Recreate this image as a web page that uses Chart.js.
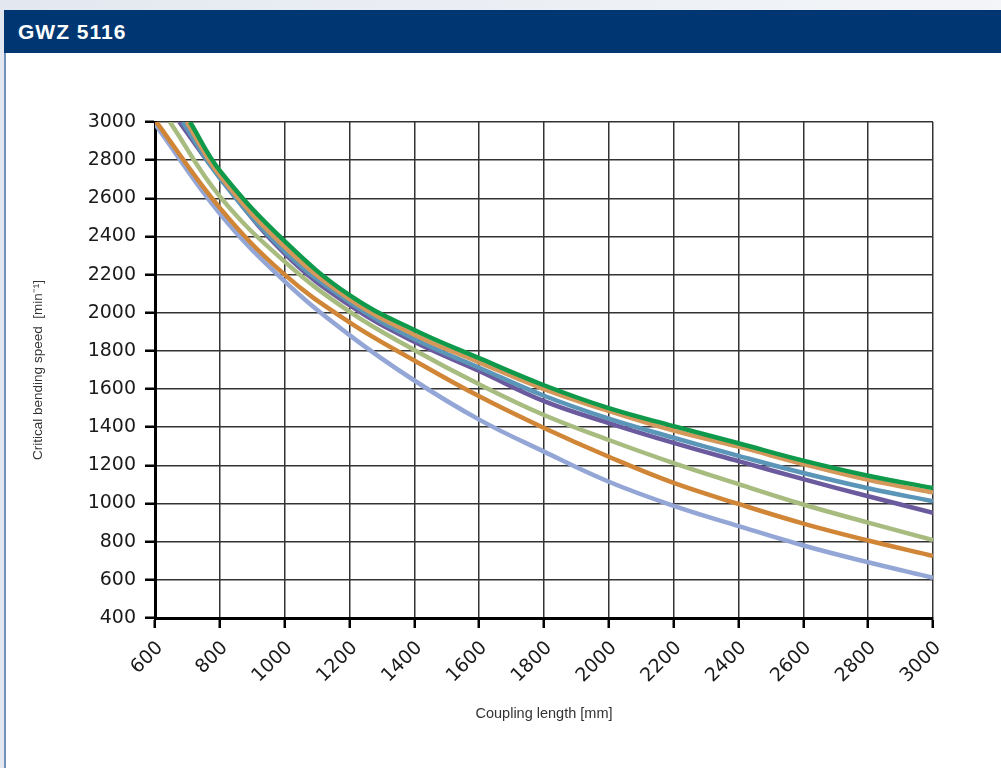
<!DOCTYPE html>
<html>
<head>
<meta charset="utf-8">
<script src="https://cdn.jsdelivr.net/npm/chart.js@4/dist/chart.umd.min.js"></script>
<style>
  body { margin: 0; width: 1001px; height: 768px; overflow: hidden; background: #fff; position: relative; font-family: "Liberation Sans", Arial, sans-serif; }
  #topStrip { position: absolute; left: 0; top: 0; width: 1001px; height: 10px; background: linear-gradient(to right, #e3e8f0, #f3f5f8); }
  #leftStrip { position: absolute; left: 0; top: 10px; width: 4px; height: 758px; background: #e3e8f0; border-right: 2px solid #7393bd; }
  #header { position: absolute; left: 4px; top: 10px; width: 997px; height: 43px; background: #003772; color: #fff; font-weight: bold; font-size: 21px; letter-spacing: 1px; line-height: 43px; padding-left: 14px; box-sizing: border-box; }
  #chartBox { position: absolute; left: 0; top: 0; width: 1001px; height: 768px; }
</style>
</head>
<body>
<div id="topStrip"></div>
<div id="leftStrip"></div>
<div id="header">GWZ 5116</div>
<div id="chartBox"><canvas id="speedChart"></canvas></div>
<script>
// Coupling length grid (mm) and read-off critical speeds (1/min)
const lengths = [800, 1000, 1200, 1400, 1600, 1800, 2000, 2200, 2400, 2600, 2800, 3000];

// where each curve enters the top of the chart
const startLength = [708, 698, 685, 675, 646, 600, 600];
const startSpeed = [3000, 3000, 3000, 3000, 3000, 3010, 2990];

const greenSpeed = [2745, 2375, 2092, 1910, 1762, 1620, 1500, 1406, 1316, 1225, 1146, 1081];
const tanSpeed = [2720, 2345, 2072, 1885, 1740, 1600, 1485, 1382, 1298, 1207, 1124, 1058];
const steelSpeed = [2706, 2322, 2056, 1862, 1712, 1565, 1445, 1345, 1250, 1160, 1080, 1012];
const purpleSpeed = [2710, 2310, 2040, 1848, 1695, 1537, 1422, 1318, 1222, 1128, 1038, 952];
const oliveSpeed = [2610, 2268, 2006, 1805, 1625, 1464, 1333, 1212, 1102, 995, 900, 809];
const orangeSpeed = [2550, 2200, 1950, 1750, 1562, 1396, 1245, 1108, 998, 895, 806, 725];
const blueSpeed = [2520, 2165, 1883, 1645, 1440, 1272, 1114, 988, 882, 780, 692, 611];

const seriesSpeeds = [greenSpeed, tanSpeed, steelSpeed, purpleSpeed, oliveSpeed, orangeSpeed, blueSpeed];
const seriesColors = ['#0f9a4b', '#d4985a', '#5b95b8', '#6b5b9e', '#a8bc80', '#d08636', '#93a6d6'];

const datasets = seriesSpeeds.map((speeds, i) => ({
    data: [{ x: startLength[i], y: startSpeed[i] }].concat(lengths.map((len, j) => ({ x: len, y: speeds[j] }))),
    borderColor: seriesColors[i],
    borderWidth: 4.5,
    pointRadius: 0,
    fill: false,
    tension: 0.4
}));

const tickFont = { family: '"DejaVu Sans", sans-serif', size: 19 };
const plainNumber = value => String(value);

const ctx = document.getElementById('speedChart').getContext('2d');
new Chart(ctx, {
    type: 'line',
    data: { datasets: datasets },
    options: {
        responsive: true,
        maintainAspectRatio: false,
        animation: false,
        layout: { padding: { left: 26, right: 68, top: 122, bottom: 41 } },
        plugins: { legend: { display: false }, tooltip: { enabled: false } },
        scales: {
            x: {
                type: 'linear',
                min: 600,
                max: 3000,
                afterFit: scale => { scale.height = 109; },
                ticks: { stepSize: 200, autoSkip: false, maxRotation: 45, minRotation: 45, color: '#1a1a1a', font: tickFont, padding: 9, labelOffset: 5, callback: plainNumber },
                grid: { color: '#333', lineWidth: 1.5, tickLength: 10, tickColor: '#000', tickWidth: 2.5 },
                border: { color: '#000', width: 3 },
                title: { display: true, text: 'Coupling length [mm]', color: '#333', font: { family: '"Liberation Sans", Arial, sans-serif', size: 14.5 } }
            },
            y: {
                min: 400,
                max: 3000,
                afterFit: scale => { scale.width = 129; },
                ticks: { stepSize: 200, color: '#1a1a1a', font: tickFont, padding: 9, callback: plainNumber },
                grid: { color: '#333', lineWidth: 1.5, tickLength: 10, tickColor: '#000', tickWidth: 2.5 },
                border: { color: '#000', width: 3 },
                title: { display: true, text: 'Critical bending speed  [min⁻¹]', color: '#333', font: { family: '"Liberation Sans", Arial, sans-serif', size: 13.5 } }
            }
        }
    }
});
</script>
</body>
</html>
